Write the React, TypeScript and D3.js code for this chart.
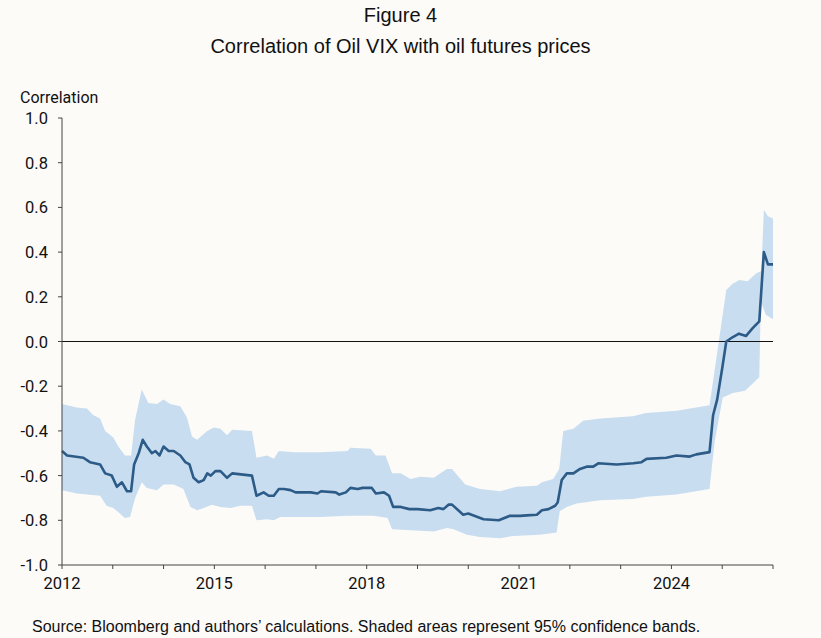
import React from "react";
import * as d3 from "d3";

// [year, value]
const midLine: [number, number][] = [
  [2012.0, -0.49], [2012.1, -0.51], [2012.42, -0.52], [2012.55, -0.54], [2012.75, -0.55], [2012.85, -0.59],
  [2012.98, -0.6], [2013.08, -0.65], [2013.18, -0.63], [2013.28, -0.67], [2013.36, -0.67], [2013.42, -0.55],
  [2013.51, -0.5], [2013.59, -0.44], [2013.67, -0.47], [2013.77, -0.5], [2013.84, -0.49], [2013.92, -0.51],
  [2014.0, -0.47], [2014.1, -0.49], [2014.2, -0.49], [2014.33, -0.51], [2014.43, -0.54], [2014.51, -0.55],
  [2014.59, -0.61], [2014.69, -0.63], [2014.79, -0.62], [2014.86, -0.59], [2014.93, -0.6], [2015.02, -0.58],
  [2015.12, -0.58], [2015.25, -0.61], [2015.35, -0.59], [2015.74, -0.6], [2015.83, -0.69], [2015.97, -0.675],
  [2016.07, -0.69], [2016.17, -0.69], [2016.27, -0.66], [2016.37, -0.66], [2016.5, -0.665], [2016.6, -0.675],
  [2016.9, -0.675], [2017.03, -0.68], [2017.1, -0.67], [2017.39, -0.675], [2017.46, -0.685], [2017.59, -0.675],
  [2017.68, -0.655], [2017.82, -0.66], [2017.92, -0.655], [2018.1, -0.655], [2018.18, -0.68], [2018.34, -0.675],
  [2018.44, -0.69], [2018.52, -0.74], [2018.67, -0.74], [2018.84, -0.75], [2019.0, -0.75], [2019.25, -0.755],
  [2019.41, -0.745], [2019.51, -0.75], [2019.61, -0.73], [2019.68, -0.73], [2019.9, -0.775], [2020.0, -0.77],
  [2020.3, -0.795], [2020.6, -0.8], [2020.82, -0.78], [2021.02, -0.78], [2021.15, -0.778], [2021.35, -0.775],
  [2021.45, -0.755], [2021.58, -0.75], [2021.71, -0.735], [2021.76, -0.72], [2021.84, -0.62], [2021.94, -0.59],
  [2022.07, -0.59], [2022.2, -0.57], [2022.33, -0.56], [2022.46, -0.56], [2022.56, -0.545], [2022.92, -0.55],
  [2023.25, -0.545], [2023.41, -0.54], [2023.51, -0.525], [2023.9, -0.52], [2024.1, -0.51], [2024.36, -0.515],
  [2024.49, -0.505], [2024.75, -0.495], [2024.82, -0.33], [2024.9, -0.26], [2025.0, -0.12], [2025.08, 0.0],
  [2025.21, 0.02], [2025.33, 0.035], [2025.47, 0.025], [2025.6, 0.06], [2025.73, 0.09], [2025.82, 0.4],
  [2025.9, 0.345], [2026.0, 0.345],
];

const lowerBand: [number, number][] = [
  [2012.0, -0.665], [2012.29, -0.68], [2012.75, -0.69], [2012.88, -0.735], [2013.01, -0.745], [2013.14, -0.77],
  [2013.24, -0.79], [2013.34, -0.785], [2013.44, -0.7], [2013.57, -0.63], [2013.67, -0.655], [2013.87, -0.665],
  [2014.0, -0.64], [2014.2, -0.64], [2014.39, -0.66], [2014.53, -0.74], [2014.66, -0.755], [2014.79, -0.745],
  [2014.95, -0.73], [2015.12, -0.74], [2015.32, -0.745], [2015.51, -0.735], [2015.74, -0.735], [2015.83, -0.8],
  [2016.04, -0.795], [2016.17, -0.8], [2016.3, -0.785], [2016.57, -0.785], [2017.09, -0.785], [2017.62, -0.78],
  [2018.14, -0.78], [2018.41, -0.79], [2018.5, -0.84], [2019.32, -0.85], [2019.58, -0.835], [2019.71, -0.84],
  [2019.97, -0.865], [2020.23, -0.875], [2020.63, -0.88], [2020.89, -0.87], [2021.41, -0.865], [2021.74, -0.855],
  [2021.8, -0.76], [2021.94, -0.74], [2022.13, -0.725], [2022.6, -0.71], [2023.24, -0.705], [2023.5, -0.695],
  [2024.1, -0.685], [2024.75, -0.66], [2024.85, -0.45], [2025.01, -0.25], [2025.21, -0.23], [2025.45, -0.22],
  [2025.73, -0.16], [2025.76, 0.18], [2025.86, 0.12], [2026.0, 0.1],
];

const upperBand: [number, number][] = [
  [2012.0, -0.28], [2012.29, -0.295], [2012.49, -0.3], [2012.62, -0.33], [2012.75, -0.345], [2012.85, -0.4],
  [2013.01, -0.43], [2013.11, -0.47], [2013.24, -0.51], [2013.36, -0.51], [2013.44, -0.35], [2013.57, -0.215],
  [2013.7, -0.275], [2013.87, -0.28], [2014.0, -0.26], [2014.13, -0.28], [2014.33, -0.29], [2014.46, -0.34],
  [2014.56, -0.425], [2014.66, -0.44], [2014.76, -0.42], [2014.86, -0.4], [2014.99, -0.385], [2015.12, -0.39],
  [2015.25, -0.42], [2015.35, -0.395], [2015.74, -0.4], [2015.83, -0.52], [2016.04, -0.51], [2016.17, -0.525],
  [2016.27, -0.49], [2016.57, -0.495], [2017.09, -0.495], [2017.62, -0.49], [2017.68, -0.475], [2018.08, -0.48],
  [2018.18, -0.51], [2018.37, -0.51], [2018.5, -0.59], [2018.67, -0.59], [2018.86, -0.615], [2019.06, -0.605],
  [2019.32, -0.61], [2019.45, -0.59], [2019.58, -0.57], [2019.68, -0.57], [2019.94, -0.64], [2020.23, -0.66],
  [2020.63, -0.67], [2020.95, -0.65], [2021.35, -0.645], [2021.45, -0.63], [2021.67, -0.615], [2021.79, -0.57],
  [2021.87, -0.4], [2022.07, -0.39], [2022.26, -0.355], [2022.6, -0.345], [2023.24, -0.335], [2023.5, -0.32],
  [2024.1, -0.31], [2024.75, -0.285], [2024.85, -0.13], [2025.08, 0.23], [2025.21, 0.26], [2025.34, 0.275],
  [2025.5, 0.27], [2025.67, 0.305], [2025.77, 0.315], [2025.82, 0.59], [2025.9, 0.56], [2026.0, 0.55],
];

const xTickYears = d3.range(2012, 2027);
const xLabelYears = [2012, 2015, 2018, 2021, 2024];
const yTicks = [-1, -0.8, -0.6, -0.4, -0.2, 0, 0.2, 0.4, 0.6, 0.8, 1];

const W = 821, H = 638;
const left = 62, right = 773, top = 118, bottom = 565;

export default function App() {
  const x = d3.scaleLinear().domain([2012, 2026]).range([left, right]);
  const y = d3.scaleLinear().domain([-1, 1]).range([bottom, top]);
  const line = d3.line<[number, number]>().x(d => x(d[0])).y(d => y(d[1]));
  const band = line([...upperBand, ...lowerBand.slice().reverse()]) + "Z";
  const axisFont = "Roboto, sans-serif";
  const titleFont = "'Liberation Sans', Arial, sans-serif";

  return (
    <svg width={W} height={H} style={{ position: "absolute", left: 0, top: 0, background: "#fcfbf8" }}>
      <rect width={W} height={H} fill="#fcfbf8" />
      <text x={W / 2 - 10} y={22} textAnchor="middle" fontFamily={titleFont} fontSize={20} fill="#111">Figure 4</text>
      <text x={W / 2 - 10} y={53} textAnchor="middle" fontFamily={titleFont} fontSize={20} fill="#111">
        Correlation of Oil VIX with oil futures prices
      </text>
      <text x={20} y={103} fontFamily={axisFont} fontSize={16} fill="#111">Correlation</text>

      <path d={band} fill="#c9ddf0" />
      <line x1={left} x2={right} y1={y(0)} y2={y(0)} stroke="#111" strokeWidth={1.2} />
      <path d={line(midLine) ?? ""} fill="none" stroke="#2c5b87" strokeWidth={2.6} strokeLinejoin="round" />

      <line x1={left} x2={left} y1={top} y2={bottom} stroke="#444" />
      <line x1={left} x2={right} y1={bottom} y2={bottom} stroke="#444" />
      {yTicks.map(t => (
        <g key={t}>
          <line x1={left - 4} x2={left} y1={y(t)} y2={y(t)} stroke="#444" />
          <text x={48} y={y(t) + 6} textAnchor="end" fontFamily={axisFont} fontSize={16.5} fill="#111">
            {t.toFixed(1)}
          </text>
        </g>
      ))}
      {xTickYears.map(t => (
        <line key={t} x1={x(t)} x2={x(t)} y1={bottom} y2={bottom + 4} stroke="#444" />
      ))}
      {xLabelYears.map(t => (
        <text key={t} x={x(t)} y={589} textAnchor="middle" fontFamily={axisFont} fontSize={16.5} fill="#111">{t}</text>
      ))}
      <text x={32} y={632} fontFamily={titleFont} fontSize={16} fill="#111">
        Source: Bloomberg and authors’ calculations. Shaded areas represent 95% confidence bands.
      </text>
    </svg>
  );
}
